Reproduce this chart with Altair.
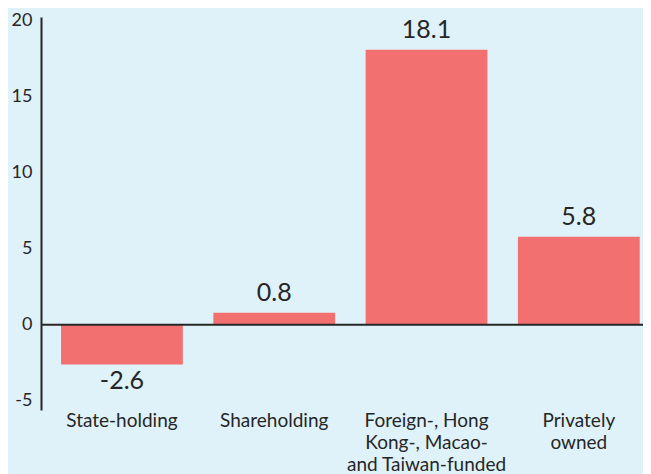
import altair as alt
import pandas as pd

categories = ["State-holding", "Shareholding",
              "Foreign-, Hong Kong-, Macao- and Taiwan-funded", "Privately owned"]
label_lines = [["State-holding"], ["Shareholding"],
               ["Foreign-, Hong", "Kong-, Macao-", "and Taiwan-funded"],
               ["Privately", "owned"]]
values = [-2.6, 0.8, 18.1, 5.8]
y_ticks = [-5, 0, 5, 10, 15, 20]

df = pd.DataFrame({"category": categories, "value": values})
df["label"] = df["value"].map(lambda v: f"{v:.1f}")

expr = ""
for c, lines in zip(categories, label_lines):
    arr = "[" + ",".join("'" + l + "'" for l in lines) + "]"
    expr += f"datum.label == '{c}' ? {arr} : "
expr += "datum.label"

FONT = "Lato"
BG = "#dff2fa"
BAR = "#f27170"
INK = "#262626"

x = alt.X("category:N", sort=categories, title=None,
          scale=alt.Scale(paddingInner=0.2, paddingOuter=0.0765, align=0.86),
          axis=alt.Axis(labelAngle=0, domain=False, ticks=False, labelExpr=expr,
                        labelFontSize=19, labelColor=INK, labelFont=FONT,
                        labelLineHeight=22, labelPadding=1, labelBaseline="top"))
y = alt.Y("value:Q", title=None,
          scale=alt.Scale(domain=[-5.6, 20.25], nice=False, zero=False),
          axis=alt.Axis(values=y_ticks, grid=False, ticks=False, domain=True,
                        domainColor=INK, domainWidth=2, labelFontSize=18,
                        labelExpr="'' + datum.value",
                        labelColor=INK, labelFont=FONT, labelPadding=9))

base = alt.Chart(df)
bars = base.mark_bar(color=BAR).encode(x=x, y=y)
pos_text = base.transform_filter("datum.value >= 0").mark_text(
    baseline="bottom", dy=-7, fontSize=25, font=FONT, color=INK
).encode(x=alt.X("category:N", sort=categories), y="value:Q", text="label:N")
neg_text = base.transform_filter("datum.value < 0").mark_text(
    baseline="top", dy=5, fontSize=25, font=FONT, color=INK
).encode(x=alt.X("category:N", sort=categories), y="value:Q", text="label:N")
zero = alt.Chart(pd.DataFrame({"z": [0]})).mark_rule(color=INK, strokeWidth=2).encode(y="z:Q")

chart = alt.layer(bars, zero, pos_text, neg_text).properties(
    width=602, height=393,
    autosize=alt.AutoSizeParams(type="none"),
    padding={"left": 33, "top": 9, "right": 0, "bottom": 64},
    background=BG,
).configure_view(stroke=None)

chart.save("out.html", embed_options={"renderer": "svg", "actions": False})
